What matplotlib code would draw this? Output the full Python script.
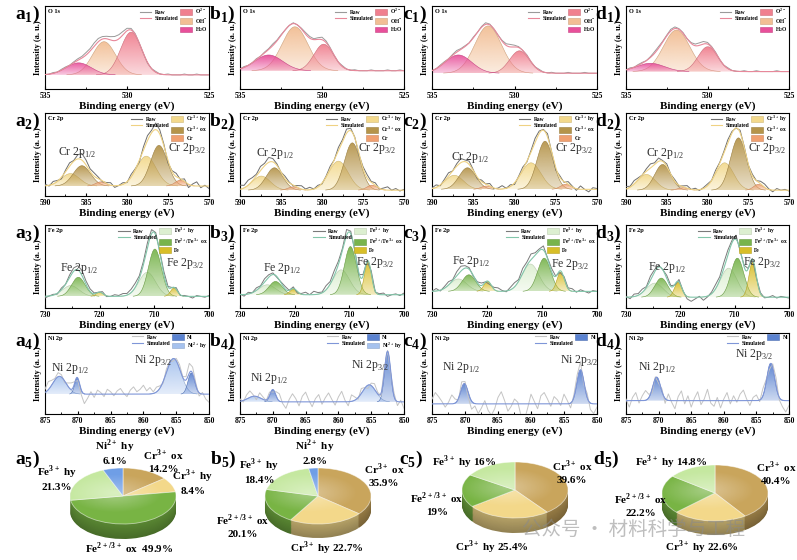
import numpy as np
import matplotlib
matplotlib.use("Agg")
import matplotlib.pyplot as plt
from matplotlib.path import Path
from matplotlib.patches import PathPatch, Patch, Circle
from matplotlib.lines import Line2D
from matplotlib.ticker import MultipleLocator
from matplotlib.colors import to_rgb

plt.rcParams['font.family'] = ['Liberation Serif', 'DejaVu Serif']
plt.rcParams['font.weight'] = 'bold'
plt.rcParams['axes.labelweight'] = 'bold'
plt.rcParams['axes.linewidth'] = 0.8

# ---------------------------------------------------------------
# data
# ---------------------------------------------------------------
# energy windows (eV), drawn from high to low binding energy
o1s_window = [535, 525]
cr_window = [590, 570]
fe_window = [730, 700]
ni_window = [875, 850]

# component names for each core level
o1s_names = [r"O$^{\mathregular{2-}}$", r"OH$^{\mathregular{-}}$", r"H$_{\mathregular{2}}$O"]
cr_names = [r"Cr$^{\mathregular{3+}}$ hy", r"Cr$^{\mathregular{3+}}$ ox", "Cr"]
fe_names = [r"Fe$^{\mathregular{3+}}$ hy", r"Fe$^{\mathregular{2+}}$/Fe$^{\mathregular{3+}}$ ox", "Fe"]
ni_names = ["Ni", r"Ni$^{\mathregular{2+}}$ hy"]

# background level of each panel (fraction of the axis height)
o1s_base = [0.17, 0.22, 0.19, 0.21]
cr_base = [0.12, 0.07, 0.08, 0.07]
fe_base = [0.14, 0.16, 0.20, 0.13]
ni_base = [0.245, 0.15, 0.125, 0.165]

# fitted peaks: (component, centre eV, height, FWHM eV)
a1_peaks = [(1, 531.4, 0.40, 1.65), (0, 529.75, 0.515, 1.5), (2, 532.95, 0.145, 1.8)]
b1_peaks = [(1, 531.65, 0.53, 1.85), (0, 529.9, 0.32, 1.4), (2, 533.25, 0.19, 2.0)]
c1_peaks = [(1, 531.6, 0.57, 1.9), (0, 529.7, 0.27, 1.4), (2, 533.4, 0.22, 1.9)]
d1_peaks = [(1, 531.9, 0.50, 1.9), (0, 529.98, 0.30, 1.4), (2, 533.5, 0.10, 2.0)]

a2_peaks = [(0, 577.65, 0.36, 2.8), (1, 576.1, 0.49, 2.4), (2, 573.5, 0.07, 1.5),
            (0, 586.9, 0.15, 2.6), (1, 585.5, 0.245, 2.5), (2, 583.2, 0.05, 1.5)]
b2_peaks = [(0, 578.0, 0.35, 2.8), (1, 576.3, 0.57, 2.3), (2, 573.9, 0.06, 1.5),
            (0, 587.4, 0.17, 2.6), (1, 585.8, 0.27, 2.4), (2, 583.5, 0.04, 1.5)]
c2_peaks = [(0, 578.0, 0.32, 2.8), (1, 576.3, 0.58, 2.3), (2, 573.8, 0.06, 1.5),
            (0, 587.3, 0.17, 2.6), (1, 585.7, 0.26, 2.4), (2, 583.4, 0.04, 1.5)]
d2_peaks = [(0, 577.9, 0.33, 2.6), (1, 576.2, 0.63, 2.3), (2, 573.75, 0.07, 1.4),
            (0, 587.5, 0.19, 2.6), (1, 585.5, 0.31, 2.3), (2, 583.0, 0.03, 1.5)]

a3_peaks = [(0, 711.3, 0.29, 3.6), (1, 709.9, 0.57, 2.8), (2, 706.4, 0.10, 1.5),
            (0, 725.3, 0.13, 3.6), (1, 723.9, 0.23, 2.9), (2, 720.0, 0.05, 1.5)]
b3_peaks = [(0, 711.5, 0.30, 3.6), (1, 709.8, 0.58, 2.6), (2, 706.6, 0.40, 1.5),
            (0, 725.0, 0.12, 3.6), (1, 723.5, 0.16, 2.8), (2, 720.2, 0.07, 1.5)]
c3_peaks = [(0, 712.1, 0.33, 3.6), (1, 709.6, 0.40, 2.8), (2, 706.6, 0.23, 1.6),
            (0, 725.2, 0.15, 3.6), (1, 723.3, 0.20, 2.9), (2, 719.9, 0.12, 1.6)]
d3_peaks = [(0, 711.1, 0.35, 3.6), (1, 709.5, 0.47, 2.8), (2, 706.7, 0.42, 1.6),
            (0, 724.7, 0.17, 3.6), (1, 723.5, 0.23, 2.8), (2, 720.4, 0.18, 1.6)]

a4_peaks = [(1, 855.4, 0.44, 2.6), (0, 852.7, 0.26, 1.2), (1, 872.8, 0.22, 2.4), (0, 870.1, 0.20, 0.9)]
b4_peaks = [(1, 855.3, 0.21, 2.4), (0, 852.5, 0.62, 1.1), (1, 872.8, 0.07, 2.4), (0, 870.0, 0.15, 1.0)]
c4_peaks = [(0, 852.5, 0.42, 1.3), (0, 870.1, 0.25, 1.3)]
d4_peaks = [(0, 852.8, 0.46, 1.4), (0, 870.3, 0.29, 1.4)]

# raw minus fit (x0.01), evenly spaced across each window
a1_raw_dev = [0, 0, 1, 0, 1, 1, 0, 1, 2, 2, 3, 3, 4, 4, 3, 3, 4, 5, 5, 4, 3, 2, 1, 0, 0, -1, 0, 1, 0, 0, 1, 0, 0, 0, 1, 0, 0, 1, 0, 0, 0]
b1_raw_dev = [0, 1, 0, 0, 1, 0, 1, 1, 2, 1, 1, 0, 0, 1, 0, 1, 2, 2, 1, 2, 3, 2, 1, 0, 0, 1, 0, 0, 1, 0, 0, 0, 1, 0, 0, 0, 1, 0, 0, 1, 0]
c1_raw_dev = [0, 0, 1, 1, 0, 1, 2, 1, 1, 0, 1, 0, 1, 2, 1, 0, 0, 1, 2, 3, 2, 1, 0, 1, 0, 0, 1, 0, 0, 1, 0, 0, 0, 1, 0, 0, 0, 1, 0, 0, 0]
d1_raw_dev = [0, 1, 0, 1, 1, 0, 1, 2, 2, 1, 1, 2, 2, 1, 1, 0, 1, 2, 3, 3, 2, 1, 1, 0, 0, 1, 0, 0, 0, 1, 0, 0, 1, 0, 0, 0, 0, 1, 0, 0, 0]

a2_raw_dev = [2, -1, 3, 1, -2, 2, 4, 1, 5, 8, 6, 3, 4, 2, -1, 1, 3, -2, 0, 2, -1, 3, 1, -2, 4, 6, 3, 8, 5, 2, -3, 1, 4, -1, 3, -4, 2, 5, -2, 1, -3]
b2_raw_dev = [5, 3, 6, 4, 2, 5, 3, 6, 4, 2, 0, 3, 1, -1, 2, 4, 1, 3, 0, 2, -1, 1, 3, 0, 4, 2, 5, 3, 1, -2, 2, 4, 1, 3, -1, 2, 4, 0, 2, -1, 1]
c2_raw_dev = [1, 3, -1, 2, 4, 0, 3, 5, 2, 4, 1, -2, 2, 0, 3, -1, 1, 4, 0, 2, -2, 1, 3, -1, 2, 5, 3, 1, 4, 0, -3, 2, -1, 3, 1, -2, 4, 0, -3, 2, 1]
d2_raw_dev = [3, 1, 4, 2, 0, 3, 5, 2, 4, 1, 3, 0, 2, -1, 1, 3, 0, 2, -1, 1, 2, 0, 3, 1, 2, 4, 2, 0, 3, 1, -1, 2, 0, 3, 4, 1, -2, 2, 0, 1, -1]

a3_raw_dev = [-2, 0, 1, -1, 2, 0, 3, 4, 5, 6, 4, 3, 1, 0, 2, -1, 0, 2, 1, 3, 2, 4, 5, 3, 4, 6, 5, 3, 2, 4, 1, 0, 2, -1, 1, 0, -2, 1, 0, -1, 1]
b3_raw_dev = [1, -2, 2, 0, 3, 1, 4, 3, 2, -1, 1, 3, 0, 2, -2, 1, 3, 0, 4, 2, 1, 5, 3, 6, 4, 2, 7, 3, 1, -2, 2, 0, 3, -1, 1, 2, -2, 0, 1, -1, 2]
c3_raw_dev = [0, 3, -1, 2, 4, 1, 5, 6, 3, 2, -1, 1, 3, 0, -2, 2, 4, 1, -1, 3, 5, 2, 6, 4, 7, 3, 2, 5, 1, 4, 0, -2, 2, 1, 3, -1, 2, 0, -2, 1, 0]
d3_raw_dev = [1, -2, 3, 2, 4, 1, 5, 3, 2, 0, 4, 1, -1, 3, 0, -3, -5, -2, 1, -4, -1, 2, 5, 4, 7, 6, 3, 5, -1, 2, 0, 1, -2, 1, -1, 0, 2, -1, 1, 0, -1]

a4_raw_dev = [4, 10, 6, 2, 5, 3, -2, 4, 8, 2, -3, -6, -12, -5, 3, -4, 5, 2, -3, 6, 3, -2, 4, 7, 1, -3, 5, 9, 3, 6,
              11, 4, 8, 2, 6, 3, -2, 4, 2, -3, 3, 5, 1, 4, 12, 8, 3, -4, 2, -6, -10]
b4_raw_dev = [3, -2, 5, 8, 2, -4, 6, 3, -1, 4, -3, 5, 9, -2, -8, 3, 10, 4, -5, 7, 12, 2, -6, 4, 9, -3, 5, 11, 3, -4,
              6, 13, 2, -5, 8, 4, -2, 6, 1, -4, 3, 7, 2, -3, 5, 1, -2, 4, -5, 2, -8]
c4_raw_dev = [6, 14, 9, 3, -4, 2, 11, 5, -2, 8, 3, -6, -10, -3, -12, -5, 4, -8, -14, -6, 8, 15, 4, -9, -3, 6, 2, -15, -20, -5,
              12, 3, -6, 10, 14, 6, -3, 9, 5, -2, 12, 4, -6, 3, 8, 10, -4, 5, -8, -12, -4]
d4_raw_dev = [2, -8, 4, 10, -3, 6, 12, 4, -5, 2, -4, 3, -6, 8, -2, -10, 5, 12, -4, 6, -8, 3, 11, -5, 2, 14, -3, -7, 4, -9,
              2, 10, -4, 6, -2, 8, 13, 2, -6, 4, 7, -2, 9, 3, -5, 5, 10, -3, -8, -14, -6]

# pie charts (%), slice order clockwise from 12 o'clock
pie_names = [r"Cr$^{\mathregular{3+}}$ ox", r"Cr$^{\mathregular{3+}}$ hy", r"Fe$^{\mathregular{2+/3+}}$ ox",
             r"Fe$^{\mathregular{3+}}$ hy", r"Ni$^{\mathregular{2+}}$ hy"]
a5_pct = [14.2, 8.4, 49.9, 21.3, 6.1]
b5_pct = [35.9, 22.7, 20.1, 18.4, 2.8]
c5_pct = [39.6, 25.4, 19.0, 16.0]
d5_pct = [40.4, 22.6, 22.2, 14.8]

# ---------------------------------------------------------------
# styling
# ---------------------------------------------------------------
o1s_colors = ['#f0808f', '#f2be94', '#e8509a']
cr_colors = ['#f3d98c', '#b5944a', '#f0a070']
fe_colors = ['#dcefd0', '#78b44c', '#d8be28']
ni_colors = ['#5a82d0', '#a6c2ee']
pie_colors = ['#c9a55c', '#f3d88a', '#78b444', '#c5e8a0', '#6f9ee6']

W, H = 797, 560
fig = plt.figure(figsize=(W / 100, H / 100), dpi=100)


def box(x0, y0, x1, y1):
    return [x0 / W, 1 - y1 / H, (x1 - x0) / W, (y1 - y0) / H]


def gauss(x, c, h, w):
    return h * np.exp(-4 * np.log(2) * ((x - c) / w) ** 2)


def darken(c, f):
    r, g, b = to_rgb(c)
    return (r * f, g * f, b * f)


def grad_fill(ax, x, base, y, color, z):
    keep = (y - base) > 0.002
    xs, ys = x[keep], y[keep]
    verts = np.concatenate([np.column_stack([xs, ys]), [[xs[-1], base], [xs[0], base], [xs[0], ys[0]]]])
    patch = PathPatch(Path(verts), facecolor='none', edgecolor='none')
    ax.add_patch(patch)
    img = np.ones((60, 1, 4))
    img[..., :3] = to_rgb(color)
    img[:, 0, 3] = np.linspace(0.95, 0.3, 60)
    im = ax.imshow(img, extent=[xs.min(), xs.max(), base, ys.max()], aspect='auto',
                   origin='upper', interpolation='bilinear', zorder=z)
    im.set_clip_path(patch)
    ax.plot(xs, ys, color=darken(color, 0.85), lw=0.4, zorder=z + 0.05)


def spectrum(ax, window, base, peaks, dev, colors, names, used, raw_c, sim_c, title, step):
    xf = np.linspace(window[0], window[1], 700)
    for k, (ci, c, h, w) in enumerate(peaks):
        grad_fill(ax, xf, base, base + gauss(xf, c, h, w), colors[ci], 1 + 0.1 * k)
    sim = base + sum(gauss(xf, c, h, w) for _, c, h, w in peaks)
    xr = np.linspace(window[0], window[1], len(dev))
    raw = base + sum(gauss(xr, c, h, w) for _, c, h, w in peaks) + np.array(dev) * 0.01
    ax.plot(xr, raw, color=raw_c, lw=0.7, zorder=4)
    ax.plot(xf, sim, color=sim_c, lw=0.8, zorder=5)
    ax.set_xlim(window[0], window[1])
    ax.set_ylim(0, 1)
    ax.set_yticks([])
    ax.xaxis.set_major_locator(MultipleLocator(step))
    ax.xaxis.set_minor_locator(MultipleLocator(step / 2))
    ax.tick_params(axis='x', which='both', direction='in', labelsize=5.5, pad=2)
    ax.tick_params(axis='x', which='major', length=2.5)
    ax.tick_params(axis='x', which='minor', length=1.5)
    ax.set_xlabel('Binding energy (eV)', fontsize=8, labelpad=1)
    ax.set_ylabel('Intensity (a. u.)', fontsize=6.0, labelpad=2)
    ax.text(0.02, 0.96, title, transform=ax.transAxes, fontsize=4.5, va='top', ha='left')
    handles = [Line2D([], [], color=raw_c, lw=0.8, label='Raw'),
               Line2D([], [], color=sim_c, lw=0.8, label='Simulated')]
    if len(used) == 3:
        handles.append(Line2D([], [], linestyle='none', label=' '))
    for i in used:
        handles.append(Patch(facecolor=colors[i], edgecolor=darken(colors[i], 0.85), lw=0.4, label=names[i]))
    ax.legend(handles=handles, ncol=2, loc='upper right', frameon=False, fontsize=4.0,
              handlelength=2.1, handleheight=1.2, columnspacing=0.35, labelspacing=0.1,
              borderaxespad=0.1, borderpad=0.1, handletextpad=0.6)


def peak_label(ax, text, x, y):
    ax.text(x, y, text, fontsize=8.5, fontweight='normal', color='#333333', ha='center', va='center', zorder=6)


cols_px = [(45, 209), (240, 404), (432, 597), (626, 789)]
rows_px = [(6, 89), (113, 196), (225, 308), (333, 414)]
letters = ['a', 'b', 'c', 'd']

rows = [
    dict(window=o1s_window, base=o1s_base, colors=o1s_colors, names=o1s_names, raw='#9a9a9a', sim='#e8889a',
         title='O 1s', step=5, peaks=[a1_peaks, b1_peaks, c1_peaks, d1_peaks],
         dev=[a1_raw_dev, b1_raw_dev, c1_raw_dev, d1_raw_dev], used=[[0, 1, 2]] * 4, labels=None),
    dict(window=cr_window, base=cr_base, colors=cr_colors, names=cr_names, raw='#6e6e6e', sim='#efd283',
         title='Cr 2p', step=5, peaks=[a2_peaks, b2_peaks, c2_peaks, d2_peaks],
         dev=[a2_raw_dev, b2_raw_dev, c2_raw_dev, d2_raw_dev], used=[[0, 1, 2]] * 4,
         labels=('Cr 2p', [(586.1, 0.52, 572.7, 0.57), (585.7, 0.51, 573.3, 0.57),
                           (585.4, 0.46, 572.8, 0.57), (585.2, 0.51, 572.7, 0.57)])),
    dict(window=fe_window, base=fe_base, colors=fe_colors, names=fe_names, raw='#7a7a7a', sim='#82c6aa',
         title='Fe 2p', step=10, peaks=[a3_peaks, b3_peaks, c3_peaks, d3_peaks],
         dev=[a3_raw_dev, b3_raw_dev, c3_raw_dev, d3_raw_dev], used=[[0, 1, 2]] * 4,
         labels=('Fe 2p', [(723.8, 0.47, 704.4, 0.54), (722.3, 0.48, 705.3, 0.55),
                           (722.9, 0.56, 704.8, 0.53), (722.4, 0.49, 705.0, 0.55)])),
    dict(window=ni_window, base=ni_base, colors=ni_colors, names=ni_names, raw='#c4c4c4', sim='#7f96d8',
         title='Ni 2p', step=5, peaks=[a4_peaks, b4_peaks, c4_peaks, d4_peaks],
         dev=[a4_raw_dev, b4_raw_dev, c4_raw_dev, d4_raw_dev], used=[[0, 1], [0, 1], [0], [0]],
         labels=('Ni 2p', [(871.2, 0.56, 858.5, 0.66), (870.6, 0.44, 855.2, 0.60),
                           (870.5, 0.58, 852.7, 0.66), (870.2, 0.58, 855.4, 0.74)])),
]

for r, spec in enumerate(rows):
    y0, y1 = rows_px[r]
    for c in range(4):
        x0, x1 = cols_px[c]
        ax = fig.add_axes(box(x0, y0, x1, y1))
        spectrum(ax, spec['window'], spec['base'][c], spec['peaks'][c], spec['dev'][c], spec['colors'],
                 spec['names'], spec['used'][c], spec['raw'], spec['sim'], spec['title'], spec['step'])
        if spec['labels'] is not None:
            stem, pos = spec['labels']
            lx1, ly1, lx3, ly3 = pos[c]
            peak_label(ax, stem + r"$_{\mathregular{1/2}}$", lx1, ly1)
            peak_label(ax, stem + r"$_{\mathregular{3/2}}$", lx3, ly3)
        fig.text((x0 - 5) / W, 1 - (y0 - 2) / H, letters[c] + r"$_{\mathregular{%d}}$)" % (r + 1),
                 fontsize=14, ha='right', va='top')

# ---------------------------------------------------------------
# 3D-looking pies
# ---------------------------------------------------------------


def draw_pie(cx, cy, pct, a=53, b=28, d=14):
    ax = fig.add_axes(box(cx - a - 3, cy - b - 3, cx + a + 3, cy + b + d + 3))
    cols = pie_colors[:len(pct)]
    nlay = 18
    for k in range(nlay, 0, -1):
        shade = 0.6 + 0.15 * (1 - k / nlay)
        ax.pie(pct, colors=[darken(cc, shade) for cc in cols], startangle=90, counterclock=False,
               center=(0, -d / b * k / nlay), wedgeprops=dict(linewidth=0))
    ax.pie(pct, colors=cols, startangle=90, counterclock=False,
           wedgeprops=dict(linewidth=0.6, edgecolor=(1, 1, 1, 0.55)))
    # soft highlight on the top face
    gx, gy = np.meshgrid(np.linspace(-1, 1, 80), np.linspace(-1, 1, 80))
    rr = np.hypot(gx + 0.15, (gy - 0.1) * 1.3)
    glow = np.ones((80, 80, 4))
    glow[..., 3] = np.clip(0.35 * (1 - rr / 0.9), 0, None)
    im = ax.imshow(glow, extent=[-1, 1, -1, 1], origin='lower', aspect='auto', zorder=5)
    im.set_clip_path(Circle((0, 0), 1, transform=ax.transData))
    ax.set_aspect('auto')
    ax.set_xlim(-(a + 3) / a, (a + 3) / a)
    ax.set_ylim(-(b + d + 3) / b, (b + 3) / b)
    ax.axis('off')


pie_specs = [
    (a5_pct, 123, 496, 15, [(4, 115, 452, False), (0, 163, 461, False), (1, 193, 482, False),
                            (3, 57, 478, False), (2, 129, 548, True)]),
    (b5_pct, 318, 496, 14, [(4, 315, 452, False), (0, 384, 475, False), (3, 259, 471, False),
                            (2, 243, 526, False), (1, 327, 548, True)]),
    (c5_pct, 515, 490, 15, [(3, 464, 462, True), (0, 572, 472, False), (2, 437, 504, False),
                            (1, 492, 547, True)]),
    (d5_pct, 715, 493, 14, [(3, 671, 462, True), (0, 776, 473, False), (2, 641, 505, False),
                            (1, 702, 547, True)]),
]

for j, (pct, cx, cy, depth, labs) in enumerate(pie_specs):
    draw_pie(cx, cy, pct, d=depth)
    for idx, lx, ly, oneline in labs:
        sep = '  ' if (oneline and idx == 2) else (' ' if oneline else '\n')
        fig.text(lx / W, 1 - ly / H, pie_names[idx] + sep + f"{pct[idx]:g}%", fontsize=8,
                 ha='center', va='center', linespacing=1.25)

for j, lx in enumerate([40, 236, 423, 619]):
    fig.text(lx / W, 1 - 449 / H, letters[j] + r"$_{\mathregular{5}}$)", fontsize=14, ha='right', va='top')

# watermark
fig.text(522 / W, 1 - 529 / H, "公众号 · 材料科学与工程", fontsize=14, color='#8a8a8a', alpha=0.55,
         family=['Noto Sans CJK SC', 'DejaVu Sans'], fontweight='normal', ha='left', va='center')

fig.savefig("out.png", dpi=100)
